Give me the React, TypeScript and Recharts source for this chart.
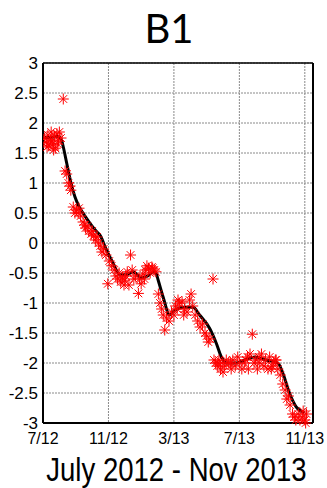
import React from "react"
import {
  ComposedChart,
  Scatter,
  Line,
  XAxis,
  YAxis,
  CartesianGrid,
  ReferenceLine,
} from "recharts"

// months since July 2012
const xTicks = [0, 4, 8, 12, 16]
const xTickLabels = ["7/12", "11/12", "3/13", "7/13", "11/13"]
const yTicks = [-3, -2.5, -2, -1.5, -1, -0.5, 0, 0.5, 1, 1.5, 2, 2.5, 3]

const obsMonths = [
  0.1, 0.2, 0.3, 0.35, 0.45, 0.5, 0.6, 0.7, 0.75, 0.85, 0.95, 1.0, 1.1, 1.24,
  1.35, 1.45, 1.55, 1.65, 1.7, 1.85, 1.95, 2.05, 2.2, 2.3, 2.45, 2.55, 2.7, 2.8,
  2.95, 3.1, 3.2, 3.3, 3.4, 3.5, 3.6, 3.7, 3.85, 3.96, 4.05, 4.2, 4.35, 4.45,
  4.55, 4.65, 4.75, 4.85, 4.95, 5.05, 5.15, 5.35, 5.45, 5.55, 5.65, 5.83, 5.9,
  6.0, 6.1, 6.25, 6.35, 6.45, 6.55, 6.65, 6.8, 6.9, 7.05, 7.15, 7.25, 7.35,
  7.44, 7.55, 7.7, 7.85, 8.0, 8.1, 8.2, 8.35, 8.5, 8.65, 8.8, 8.95, 9.05, 9.15,
  9.3, 9.45, 9.6, 9.75, 9.9, 10.0, 10.1, 10.2, 10.39, 10.45, 10.55, 10.65,
  10.75, 10.85, 10.95, 11.1, 11.2, 11.35, 11.5, 11.6, 11.75, 11.9, 12.0, 12.15,
  12.3, 12.4, 12.55, 12.65, 12.79, 12.9, 13.0, 13.1, 13.25, 13.35, 13.5, 13.6,
  13.75, 13.85, 14.0, 14.1, 14.2, 14.35, 14.5, 14.65, 14.8, 14.9, 15.0, 15.1,
  15.25, 15.35, 15.45, 15.6, 15.7, 15.85, 16.0, 16.1,
  0.25, 0.55, 0.65, 0.9, 2.15, 2.6, 3.0, 5.0, 5.25, 6.2, 6.7, 8.25, 8.6, 10.7,
  11.0, 11.45, 12.5, 13.2, 13.95, 14.25, 15.9, 16.05,
]
const obsValues = [
  1.75, 1.68, 1.8, 1.62, 1.72, 1.85, 1.65, 1.78, 1.58, 1.82, 1.7, 1.85, 1.75, 2.4,
  1.2, 1.15, 1.0, 0.95, 0.88, 0.6, 0.5, 0.55, 0.58, 0.45, 0.35, 0.3, 0.28, 0.2,
  0.15, 0.12, 0.05, 0.1, 0.0, -0.05, -0.15, -0.1, -0.2, -0.68, -0.3, -0.38, -0.45, -0.55,
  -0.6, -0.5, -0.65, -0.58, -0.7, -0.55, -0.48, -0.2, -0.45, -0.6, -0.55, -0.84, -0.6,
  -0.68, -0.52, -0.45, -0.38, -0.42, -0.5, -0.4, -0.45, -0.48, -0.85, -1.0, -1.1, -1.2,
  -1.45, -1.25, -1.3, -1.15, -1.2, -1.05, -1.1, -1.0, -0.98, -1.1, -1.15, -0.95, -0.85, -1.05,
  -1.2, -1.3, -1.4, -1.35, -1.5, -1.55, -1.65, -1.6, -0.6, -1.95, -2.0, -2.05,
  -1.95, -2.1, -2.0, -2.05, -1.95, -2.0, -2.1, -1.95, -2.05, -1.9, -2.0, -2.1,
  -2.0, -1.95, -2.1, -1.85, -1.52, -2.0, -1.95, -2.1, -2.0, -1.85, -2.05, -1.95,
  -2.1, -1.9, -2.05, -2.0, -1.95, -2.1, -2.2, -2.35, -2.45, -2.6, -2.55, -2.7,
  -2.85, -2.9, -2.95, -2.85, -2.95, -2.9, -2.95, -2.85,
  1.6, 1.7, 1.55, 1.65, 0.5, 0.25, 0.2, -0.62, -0.7, -0.6, -0.42, -0.95, -1.2, -2.0,
  -2.15, -2.0, -1.9, -1.9, -2.1, -1.95, -2.8, -3.0,
]

const fitMonths = [
  0.12, 0.5, 0.92, 1.1, 1.24, 1.45, 1.71, 1.95, 2.16, 2.66, 3.27, 3.48, 3.88,
  4.29, 4.7, 5.1, 5.5, 6.02, 6.4, 6.73, 6.9, 7.04, 7.34, 7.74, 8.05, 8.56, 9.17,
  9.57, 10.18, 10.59, 10.9, 11.2, 11.81, 12.42, 12.93, 13.64, 14.35, 14.66,
  15.06, 15.47, 15.98,
]
const fitValues = [
  1.76, 1.76, 1.78, 1.74, 1.6, 1.33, 1.0, 0.77, 0.63, 0.41, 0.19, 0.13, -0.12,
  -0.34, -0.53, -0.53, -0.48, -0.58, -0.55, -0.48, -0.5, -0.62, -0.9, -1.2, -1.12, -1.07, -1.07,
  -1.2, -1.42, -1.67, -1.9, -2.0, -2.0, -1.94, -1.9, -1.95, -2.0, -2.17,
  -2.5, -2.73, -2.83,
]

const obsData = obsMonths.map((m, i) => ({ m, v: obsValues[i] }))
const fitData = fitMonths.map((m, i) => ({ m, v: fitValues[i] }))

const TICK_FONT = "'Liberation Sans', Arial, sans-serif"

const Asterisk = (props: any) => {
  const { cx, cy } = props
  if (cx == null || cy == null) return null
  const r = 5.5
  const d = r * 0.7
  return (
    <g stroke="#ff0000" strokeWidth={1}>
      <line x1={cx - r} y1={cy} x2={cx + r} y2={cy} />
      <line x1={cx} y1={cy - r} x2={cx} y2={cy + r} />
      <line x1={cx - d} y1={cy - d} x2={cx + d} y2={cy + d} />
      <line x1={cx - d} y1={cy + d} x2={cx + d} y2={cy - d} />
    </g>
  )
}

export default function App() {
  return (
    <div
      style={{
        position: "absolute",
        left: 0,
        top: 0,
        width: 327,
        height: 488,
        background: "#fff",
        overflow: "hidden",
      }}
    >
      <div
        style={{
          position: "absolute",
          left: 0,
          width: 338,
          top: 4,
          textAlign: "center",
          fontFamily: "Lato, 'Open Sans', sans-serif",
          fontSize: 40,
          lineHeight: "48px",
        }}
      >
        B1
      </div>
      <ComposedChart
        width={327}
        height={488}
        margin={{ top: 63, right: 14, bottom: 0, left: 0 }}
      >
        <CartesianGrid stroke="#8a8a8a" strokeDasharray="2 1" />
        <XAxis
          type="number"
          dataKey="m"
          domain={[0, 16.5]}
          ticks={xTicks}
          interval={0}
          tickFormatter={(v: number) => xTickLabels[xTicks.indexOf(v)]}
          height={65}
          axisLine={{ stroke: "#000", strokeWidth: 2 }}
          tickLine={false}
          tickMargin={4}
          tick={{ fill: "#000", fontSize: 16, fontFamily: TICK_FONT }}
          allowDataOverflow
        />
        <YAxis
          type="number"
          dataKey="v"
          domain={[-3, 3]}
          ticks={yTicks}
          width={43}
          interval={0}
          axisLine={{ stroke: "#000", strokeWidth: 2 }}
          tickLine={false}
          tickSize={4}
          tickMargin={1}
          tick={{ fill: "#000", fontSize: 17, fontFamily: TICK_FONT }}
        />
        <ReferenceLine y={3} stroke="#000" strokeWidth={1.5} />
        <ReferenceLine x={16.5} stroke="#000" strokeWidth={2} />
        <Scatter
          data={obsData}
          dataKey="v"
          shape={<Asterisk />}
          isAnimationActive={false}
        />
        <Line
          data={fitData}
          dataKey="v"
          type="monotone"
          stroke="#000"
          strokeWidth={3}
          dot={false}
          isAnimationActive={false}
        />
      </ComposedChart>
      <div
        style={{
          position: "absolute",
          left: 0,
          width: 353,
          top: 450,
          textAlign: "center",
          fontFamily: TICK_FONT,
          fontSize: 34,
          lineHeight: "38px",
          transform: "scaleX(0.81)",
          transformOrigin: "176px 0",
          whiteSpace: "nowrap",
        }}
      >
        July 2012 - Nov 2013
      </div>
    </div>
  )
}
